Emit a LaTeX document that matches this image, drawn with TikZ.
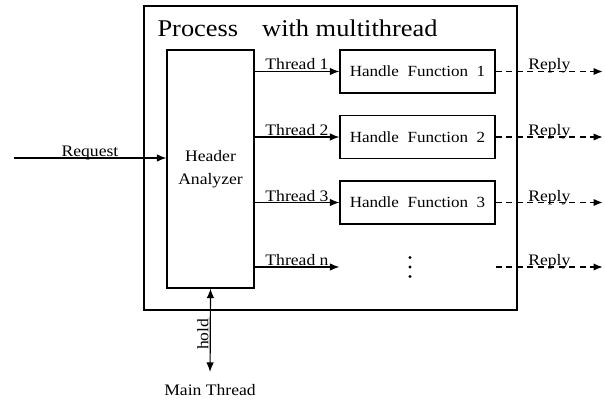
\documentclass[tikz,border=0pt]{standalone}
\usepackage{fontspec}
\setmainfont{Liberation Serif}[FakeStretch=1.1]
\usetikzlibrary{positioning, arrows.meta}

\begin{document}
\begin{tikzpicture}[x=1pt, y=-1pt, line width=1.2pt,
    >={Latex[length=9.5pt,width=7.5pt]},
    node distance=65.5pt, on grid,
    txt/.style={font=\fontsize{16}{19}\selectfont},
    box/.style={draw, inner sep=0pt, minimum width=155pt, minimum height=43pt,
        font=\fontsize{15.5}{18}\selectfont},
    lbl/.style={txt, anchor=base, yshift=1.5pt, inner sep=0pt},
    reply/.style={->, dash pattern=on 6pt off 4.5pt, line width=1.8pt}]
    \useasboundingbox (0,0) rectangle (605,401);

    \node[draw, minimum width=373pt, minimum height=304pt] (proc) at (330.5,158) {};
    \node[font=\fontsize{24}{28}\selectfont] (title) at (297.5,28)
        {Process\hspace{24pt}with multithread};
    \node[draw, minimum width=87pt, minimum height=238pt, align=center,
        font=\fontsize{16}{23.5}\selectfont] (hdr) at (210.5,169) {Header\\Analyzer};
    \node[box] (hf1) at (417.5,71.5) {Handle~~Function~~1};
    \node[box] (hf2) [below=of hf1] {Handle~~Function~~2};
    \node[box] (hf3) [below=of hf2] {Handle~~Function~~3};
    \coordinate (dots) at (410,267);
    \node[txt, anchor=base] (main) at (210,395) {Main Thread};
    \coordinate (req) at (13.5,158);
    \coordinate (edge) at (603,0);

    % vertical dots
    \foreach \d in {-9.5,0,9.5}
        \fill (dots) ++(0,\d) circle (1.7pt);

    % request in, threads out
    \draw[->] (req) -- node[lbl] {Request} (req -| hdr.west);
    \foreach \i in {1,2,3} {
        \draw[->] (hdr.east |- hf\i) -- node[lbl] {Thread \i} (hf\i.west);
        \draw[reply] (hf\i.east) -- node[lbl] {Reply} (hf\i -| edge);
    }
    \draw[->] (hdr.east |- dots) -- node[lbl] {Thread n} (hf3.west |- dots);
    \draw[reply] (hf3.east |- dots) -- node[lbl] {Reply} (edge |- dots);

    % main thread
    \draw[<->, shorten >=8pt] (hdr.south) -- node[txt, rotate=90, anchor=south, inner sep=1pt] {hold} (main.north);
\end{tikzpicture}
\end{document}
